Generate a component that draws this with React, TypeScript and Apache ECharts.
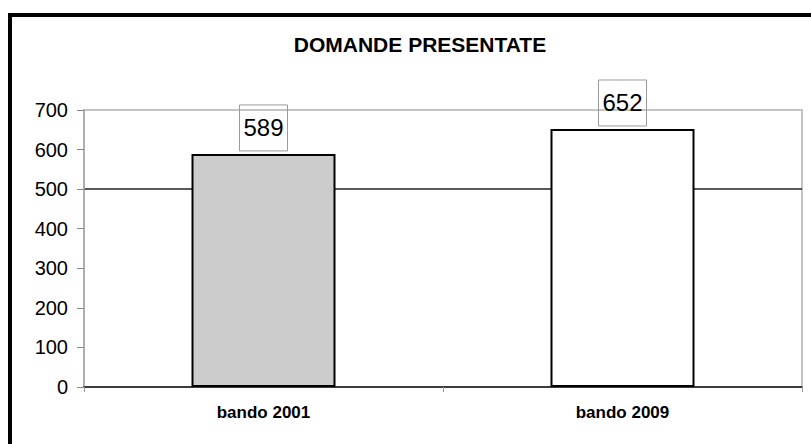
import React, { useEffect, useRef } from "react";
import * as echarts from "echarts";

// Applications submitted per call for proposals
const categories = ["bando 2001", "bando 2009"];
const applications = [589, 652];
const barColors = ["#cccccc", "#ffffff"];
const yTicks = [0, 100, 200, 300, 400, 500, 600, 700];

const FONT = "'Liberation Sans', Arial, sans-serif";

export default function App() {
  const ref = useRef<HTMLDivElement>(null);

  useEffect(() => {
    if (!ref.current) return;
    const chart = echarts.init(ref.current, null, { renderer: "svg" });

    // only the 500 reference line is visible among the split lines
    const splitColors = yTicks.map((v) => (v === 500 ? "#222222" : "rgba(0,0,0,0)"));

    chart.setOption({
      animation: false,
      backgroundColor: "#ffffff",
      textStyle: { fontFamily: FONT },
      title: {
        text: "DOMANDE PRESENTATE",
        left: 415,
        top: 29,
        textAlign: "center",
        textStyle: { fontFamily: FONT, fontSize: 21, fontWeight: "bold", color: "#000" },
      },
      graphic: [
        {
          type: "rect",
          shape: { x: 10, y: 15, width: 860, height: 520 },
          style: { fill: "none", stroke: "#000", lineWidth: 4 },
          silent: true,
          z: 100,
        },
      ],
      grid: {
        left: 84,
        right: 9,
        top: 110,
        bottom: 57,
        show: true,
        borderColor: "#c4c4c4",
        borderWidth: 2,
        backgroundColor: "#ffffff",
      },
      xAxis: {
        type: "category",
        data: categories,
        axisLine: { show: true, lineStyle: { color: "#111", width: 1.5 } },
        axisTick: { show: true, alignWithLabel: false, length: 5, lineStyle: { color: "#999" } },
        axisLabel: {
          margin: 17,
          fontFamily: FONT,
          fontSize: 17,
          fontWeight: "bold",
          color: "#000",
        },
        splitLine: { show: false },
      },
      yAxis: {
        type: "value",
        min: 0,
        max: 700,
        interval: 100,
        axisLine: { show: true, lineStyle: { color: "#aaaaaa", width: 1.5 } },
        axisTick: { show: true, inside: false, length: 7, lineStyle: { color: "#888" } },
        axisLabel: { margin: 16, fontFamily: FONT, fontSize: 20, color: "#000" },
        splitLine: { show: true, lineStyle: { color: splitColors, width: 1.5 } },
      },
      series: [
        {
          type: "bar",
          barWidth: 144,
          data: applications.map((v, i) => ({
            value: v,
            itemStyle: { color: barColors[i], borderColor: "#000", borderWidth: 2 },
          })),
          label: {
            show: true,
            position: "top",
            distance: 3,
            fontFamily: FONT,
            fontSize: 24,
            color: "#000",
            borderColor: "#9a9a9a",
            borderWidth: 1,
            padding: [11, 4, 11, 4],
            lineHeight: 24,
          },
        },
      ],
    });

    return () => chart.dispose();
  }, []);

  return (
    <div
      ref={ref}
      style={{ position: "absolute", left: 0, top: 0, width: 811, height: 444 }}
    />
  );
}
